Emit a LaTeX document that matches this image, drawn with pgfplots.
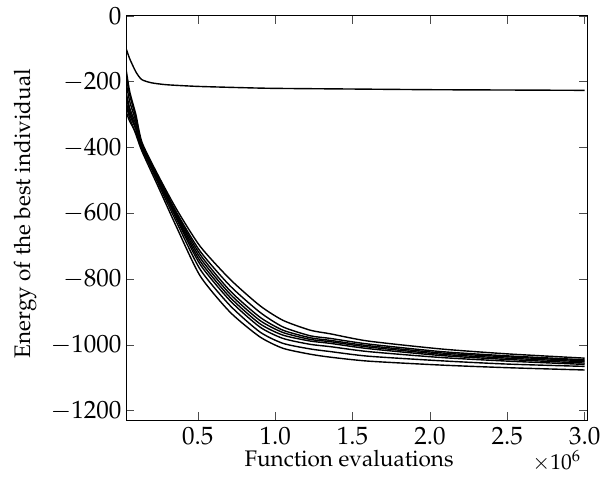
\documentclass[border=0pt]{standalone}
\usepackage[T1]{fontenc}
\usepackage{mathpazo}
\usepackage{pgfplots}
\usepackage{pgfplotstable}
\pgfplotsset{compat=1.18}
\pgfplotstableread{
x     A     B     C     D     E     F     G     H
0.036 -160  -200  -230  -260  -290  -180  -240  -270
0.06  -230  -260  -280  -300  -320  -240  -290  -310
0.1   -300  -320  -330  -345  -355  -310  -340  -360
0.14  -385  -390  -395  -400  -405  -395  -400  -412
0.25  -490  -495  -500  -505  -510  -505  -515  -525
0.366 -590  -600  -605  -610  -615  -620  -630  -645
0.515 -700  -715  -725  -735  -745  -755  -770  -790
0.708 -800  -820  -835  -845  -855  -865  -880  -900
0.9   -880  -900  -915  -925  -935  -945  -960  -975
1.05  -925  -945  -955  -962  -970  -980  -995  -1010
1.226 -955  -972  -978  -983  -988  -998  -1012 -1028
1.356 -966  -980  -986  -990  -995  -1005 -1020 -1037
1.6   -988  -997  -1002 -1006 -1011 -1020 -1034 -1049
2.07  -1012 -1020 -1024 -1028 -1032 -1038 -1048 -1061
2.5   -1027 -1033 -1036 -1040 -1044 -1049 -1058 -1069
3.0   -1040 -1045 -1048 -1051 -1055 -1059 -1065 -1076
}\lowdata
\pgfplotstableread{
x     U
0.036 -98
0.06  -130
0.1   -170
0.137 -193
0.2   -203
0.3   -209
0.5   -214
0.8   -218
1.0   -220
1.5   -222
2.0   -224
2.5   -225
3.0   -226
}\updata
\begin{document}
\begin{tikzpicture}
\useasboundingbox (0,0) rectangle (601pt,481pt);
\begin{axis}[
  name=ax,
  at={(126pt,61pt)}, anchor=south west,
  width=461pt, height=404pt, scale only axis,
  xmin=0.036, xmax=3.015, ymin=-1228, ymax=0,
  xtick={0.5,1.0,1.5,2.0,2.5,3.0},
  xticklabel style={/pgf/number format/fixed, /pgf/number format/fixed zerofill, /pgf/number format/precision=1},
  ytick={-1200,-1000,-800,-600,-400,-200,0},
  /pgf/number format/1000 sep={},
  tick align=inside, major tick length=8pt,
  tick style={line width=0.6pt, color=black!70},
  axis line style={line width=1pt},
  every tick label/.append style={font=\fontsize{25}{29}\selectfont},
  every x tick label/.append style={anchor=base, yshift=-24pt},
  every y tick label/.append style={xshift=-1pt},
  label style={font=\fontsize{22.5}{26}\selectfont},
  xlabel={Function evaluations},
  ylabel={Energy of the best individual},
  xlabel style={at={(rel axis cs:0.484,-0.1163)}, anchor=base},
  ylabel style={at={(rel axis cs:-0.219,0.511)}, anchor=center},
]
\foreach \c in {A,B,C,D,E,F,G,H}{
  \addplot[black, line width=1.4pt, smooth, tension=0.4, no marks] table[x=x,y=\c] {\lowdata};
}
\addplot[black, line width=1.4pt, smooth, tension=0.4, no marks] table[x=x,y=U] {\updata};
\end{axis}
\node[anchor=base east, font=\fontsize{21.5}{25}\selectfont] at ([xshift=-3pt,yshift=-49pt]ax.south east) {$\times10^{6}$};
\end{tikzpicture}
\end{document}
